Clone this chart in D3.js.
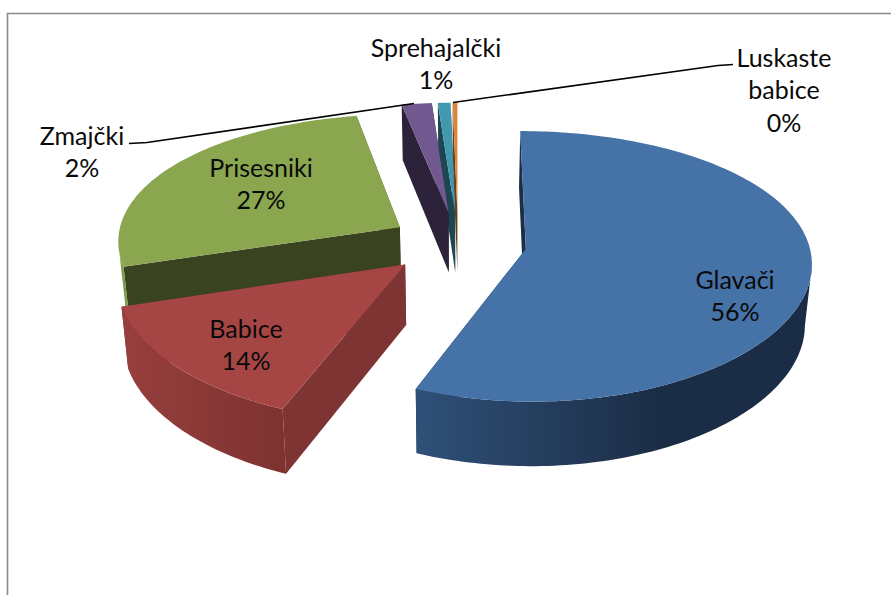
<!DOCTYPE html>
<html><head><meta charset="utf-8">
<script src="https://cdn.jsdelivr.net/npm/d3@7"></script>
<style>html,body{margin:0;padding:0;background:#fff}svg{display:block}text{font-family:Lato,"Open Sans",sans-serif;fill:#0a0a0a}</style>
</head><body>
<svg id="c" width="891" height="595"></svg>
<script>
// ---- data ----
const categories = ["Glavači","Babice","Prisesniki","Zmajčki","Sprehajalčki","Luskaste babice"];
const shares = [56.1,14.1,26.8,1.9,0.8,0.3];
const topColors = ["#4572a7","#a64644","#8aa64f","#71588f","#4198af","#db843d"];
const wallLight = ["#2f5078","#973f3d","#7f9a48","#2c2239","#1c4651","#6b3e15"];
const wallDark  = ["#1b2d46","#7d3230","#7f9a48","#2c2239","#1c4651","#6b3e15"];
const edgeColors = ["#1b3047","#7e3432","#3a431f","#2c2239","#1c4651","#6b3e15"];

// ---- layout ----
const W=891,H=595;
const view={cx:458,cy:243,rx:283,ry:131.5,kx:0.093,ky:0.128,h:60,explode:0.236,shrink:0.02};
const sliceNudge=[2,-3,-1.5,-1,0,0];
const labelLayout=[
 {x:735,y:280},{x:246,y:329},{x:261,y:168},
 {x:82,y:136},{x:436,y:48},{x:784,y:58}];
const lineGap=32.5;

const svg=d3.select("#c");
const defs=svg.append("defs");
svg.append("rect").attr("width",W).attr("height",H).attr("fill","#fff");
svg.append("path").attr("d",d3.line()([[7.5,H],[7.5,13.5],[W,13.5]]))
  .attr("fill","none").attr("stroke","#8a8a8a").attr("stroke-width",1.6);

function project(U,V,z){
  const sx=1/(1-view.kx*V), sy=1/(1-view.ky*V);
  return [view.cx+view.rx*U*sx*(1-view.shrink*z),
          view.cy+view.ry*V*sy+z*view.h*(1+0.7*(sx-1))];
}
const pie=d3.pie().sort(null).value(d=>d).startAngle(0).endAngle(2*Math.PI);
const arcs=pie(shares).map((a,i)=>{
  const mid=(a.startAngle+a.endAngle)/2;
  const oU=Math.sin(mid)*view.explode, oV=-Math.cos(mid)*view.explode;
  const n=Math.max(2,Math.ceil((a.endAngle-a.startAngle)/0.02));
  const angles=d3.range(n+1).map(j=>a.startAngle+(a.endAngle-a.startAngle)*j/n);
  const rim=z=>angles.map(t=>project(oU+Math.sin(t),oV-Math.cos(t),z));
  return {i,a,oU,oV,angles,rim,tip:z=>project(oU,oV,z)};
});
const line=d3.line();
const closed=pts=>line(pts)+"Z";

// back-to-front
const order=arcs.slice().sort((p,q)=>d3.ascending(p.oV,q.oV)||d3.ascending(p.i,q.i));
order.forEach(s=>{
  const g=svg.append("g").attr("transform",`translate(${sliceNudge[s.i]},0)`);
  const top=s.rim(0),bot=s.rim(1);
  const tip0=s.tip(0),tip1=s.tip(1);
  const n=top.length-1;
  // radial walls
  const endWall=[tip0,top[n],bot[n],tip1];
  const startWall=[tip0,top[0],bot[0],tip1];
  g.append("path").attr("d",closed(endWall)).attr("fill",edgeColors[s.i]);
  g.append("path").attr("d",closed(startWall)).attr("fill",edgeColors[s.i]);
  // outer wall, only where the rim faces the viewer
  const front=d3.range(n+1).filter(j=>{
    const a=top[Math.max(j-1,0)],b=top[Math.min(j+1,n)];
    return b[0]<a[0];
  });
  if(front.length>1){
    const ft=front.map(j=>top[j]),fb=front.map(j=>bot[j]);
    const id="w"+s.i;
    const gr=defs.append("linearGradient").attr("id",id).attr("x1",0).attr("x2",1).attr("y1",0).attr("y2",0);
    gr.append("stop").attr("offset",0).attr("stop-color",wallLight[s.i]);
    gr.append("stop").attr("offset",s.i===0?0.62:1).attr("stop-color",wallDark[s.i]);
    g.append("path").attr("d",closed(ft.concat(fb.reverse()))).attr("fill",`url(#${id})`);
  }
  // top surface
  g.append("path").attr("d",closed([tip0].concat(top))).attr("fill",topColors[s.i]);
});

// leader lines
const leaderA=[[129,143.5],[147,142.5],[414,103.5]];
const leaderB=[[733,64.5],[718,65.5],[453,102.5]];
svg.selectAll("path.leader").data([leaderA,leaderB]).enter().append("path").attr("class","leader")
  .attr("d",line).attr("fill","none").attr("stroke","#000").attr("stroke-width",1.6);

// labels
const total=d3.sum(shares);
const fmt=d3.format(".0f");
const labels=svg.append("g").attr("font-size",25).attr("text-anchor","middle");
categories.forEach((c,i)=>{
  const L=labelLayout[i];
  const parts=i===5?c.split(" "):[c];
  parts.concat([fmt(shares[i]/total*100)+"%"]).forEach((t,j)=>{
    labels.append("text").attr("x",L.x).attr("y",L.y+j*lineGap).attr("dy","0.35em").text(t);
  });
});
</script>
</body></html>
